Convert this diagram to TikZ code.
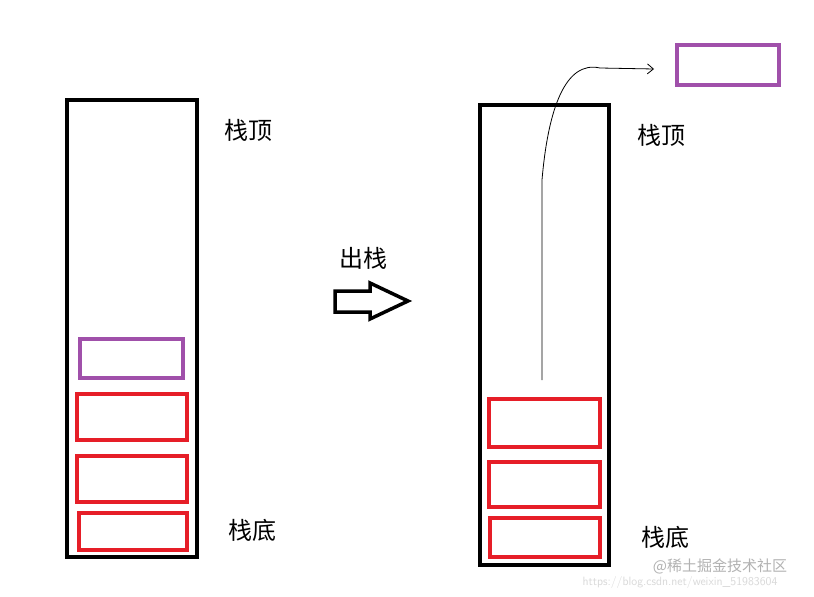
\documentclass[tikz,border=0pt]{standalone}
\usepackage{fontspec}
\newfontfamily\cjk{Noto Sans CJK SC}
\usetikzlibrary{arrows.meta}
\begin{document}
\begin{tikzpicture}[x=1pt,y=-1pt,
  stackbox/.style={draw=black,line width=4pt},
  redbox/.style={draw={rgb,255:red,230;green,30;blue,40},line width=3.5pt},
  purplebox/.style={draw={rgb,255:red,160;green,80;blue,170},line width=3.5pt},
  lbl/.style={font=\cjk\fontsize{24}{24}\selectfont}]
\useasboundingbox (0,0) rectangle (814,597);
\fill[white] (0,0) rectangle (814,597);
% left stack
\draw[stackbox] (67,100) rectangle (197,557);
\draw[purplebox] (80,339) rectangle (183,378);
\draw[redbox] (77,394) rectangle (187,440);
\draw[redbox] (77,456) rectangle (187,502);
\draw[redbox] (79,513) rectangle (187,550);
\node[lbl] (ltop) at (248,130) {栈顶};
\node[lbl] (lbot) at (252,530) {栈底};
% arrow
\node[lbl] (op) at (363,258) {出栈};
\draw[line width=3.5pt,line join=miter] (335,291) -- (370,291) -- (370,283) -- (408,301) -- (370,319) -- (370,312) -- (335,312) -- cycle;
% right stack
\draw[stackbox] (480,105) rectangle (609,565);
\draw[redbox] (489,399) rectangle (600,447);
\draw[redbox] (489,462) rectangle (600,507);
\draw[redbox] (490,518) rectangle (600,557);
\node[lbl] (rtop) at (661,135) {栈顶};
\node[lbl] (rbot) at (665,537) {栈底};
\draw[purplebox] (677,45) rectangle (779,85) node[midway] (pop) {};
\coordinate (start) at (542,380);
\coordinate (end) at (654,69);
\draw[line width=0.8pt,-{Straight Barb[length=6pt,width=10pt]}] (start) -- (542,180) .. controls (548,110) and (565,60) .. (600,68) -- (end);
\node[text=gray!60,font=\cjk\fontsize{15}{15}\selectfont] (wm) at (720,566) {@稀土掘金技术社区};
\node[text=gray!30,font=\sffamily\fontsize{12}{12}\selectfont] (url) at (680,582) {https://blog.csdn.net/weixin\_51983604};
\end{tikzpicture}
\end{document}
